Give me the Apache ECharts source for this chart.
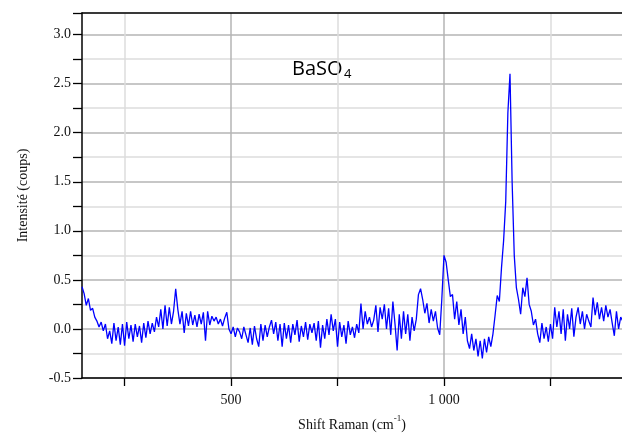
<!DOCTYPE html>
<html>
<head>
<meta charset="utf-8">
<script src="https://cdn.jsdelivr.net/npm/echarts@6/dist/echarts.min.js"></script>
<style>
html,body{margin:0;padding:0;background:#fff;}
#chart{width:622px;height:437px;}
</style>
</head>
<body>
<div id="chart"></div>
<script>
// Raman shift sampling (cm-1): start and step of the spectrum
const shiftStart = 150;
const shiftStep = 5;
// Intensity (counts), one value per sample
const intensity = [
  0.43, 0.36, 0.24, 0.31, 0.19, 0.21, 0.12, 0.08, 0.02, 0.07,
  -0.02, 0.05, -0.10, -0.02, -0.15, 0.06, -0.12, 0.02, -0.16, 0.05,
  -0.17, 0.07, -0.10, 0.04, -0.13, 0.05, -0.08, 0.03, -0.14, 0.06,
  -0.09, 0.08, -0.05, 0.06, -0.03, 0.12, 0.02, 0.20, 0.00, 0.24,
  0.03, 0.22, 0.05, 0.18, 0.41, 0.20, 0.05, 0.18, -0.04, 0.16,
  0.03, 0.18, 0.04, 0.14, 0.02, 0.15, 0.05, 0.17, -0.12, 0.18,
  0.04, 0.13, 0.08, 0.12, 0.05, 0.10, 0.03, 0.11, 0.17, 0.00,
  -0.05, 0.02, -0.08, 0.01, -0.03, -0.10, 0.02, -0.06, -0.14, 0.01,
  -0.16, 0.03, -0.10, -0.18, 0.05, -0.12, 0.04, -0.08, 0.02, 0.09,
  -0.05, 0.07, -0.12, 0.05, -0.18, 0.06, -0.10, 0.04, -0.14, 0.05,
  -0.06, 0.09, -0.13, 0.03, -0.08, 0.07, -0.11, 0.05, -0.04, 0.06,
  -0.12, 0.08, -0.19, 0.04, -0.10, 0.10, -0.06, 0.15, -0.02, 0.10,
  -0.18, 0.07, -0.08, 0.04, -0.15, 0.08, -0.06, 0.02, -0.09, 0.05,
  -0.04, 0.26, 0.00, 0.18, 0.05, 0.12, 0.02, 0.09, 0.24, -0.03,
  0.22, 0.10, 0.25, 0.00, 0.21, -0.06, 0.28, 0.05, -0.22, 0.15,
  -0.10, 0.18, -0.05, 0.15, -0.12, 0.12, -0.02, 0.10, 0.35, 0.41,
  0.30, 0.16, 0.26, 0.06, 0.20, 0.08, 0.18, 0.01, -0.06, 0.31,
  0.75, 0.68, 0.50, 0.33, 0.35, 0.10, 0.28, 0.04, 0.20, -0.05,
  0.12, -0.12, -0.20, -0.05, -0.22, -0.10, -0.28, -0.12, -0.30, -0.10,
  -0.24, -0.08, -0.18, -0.05, 0.14, 0.34, 0.28, 0.62, 0.90, 1.30,
  2.20, 2.60, 1.50, 0.75, 0.42, 0.30, 0.15, 0.42, 0.33, 0.52,
  0.25, 0.18, 0.04, 0.10, -0.05, -0.14, 0.06, -0.10, 0.02, -0.13,
  0.05, -0.10, 0.22, 0.02, 0.18, -0.05, 0.20, -0.12, 0.15, 0.00,
  0.21, -0.08, 0.12, 0.22, 0.05, 0.18, 0.00, 0.15, 0.08, 0.02,
  0.32, 0.14, 0.27, 0.10, 0.22, 0.08, 0.24, 0.12, 0.20, 0.06,
  -0.07, 0.18, 0.00, 0.12, 0.08
];
// Axis settings
const xMin = 150, xMax = 1418;
const yMin = -0.5, yMax = 3.22;
const xTickValues = [250, 500, 750, 1000, 1250];
const xLabelValues = [500, 1000];
const xLabelText = ['500', '1 000'];

const points = intensity.map((v, i) => [shiftStart + i * shiftStep, v]);

const serif = "'Liberation Serif', 'DejaVu Serif', serif";
const sans = "'Open Sans', sans-serif";
const chart = echarts.init(document.getElementById('chart'), null, {renderer: 'canvas'});
chart.setOption({
  animation: false,
  grid: {left: 82, top: 13, right: 0, bottom: 57, containLabel: false},
  xAxis: [{
    type: 'value', min: xMin, max: xMax, position: 'bottom',
    name: '{m|Shift Raman (cm}{s|-1}{m|)}',
    nameLocation: 'middle', nameGap: 36,
    nameTextStyle: {
      rich: {
        m: {fontFamily: serif, fontSize: 14, color: '#111', lineHeight: 18, verticalAlign: 'bottom'},
        s: {fontFamily: serif, fontSize: 9, color: '#111', lineHeight: 18, verticalAlign: 'top', padding: [0,0,8,0]}
      }
    },
    axisLine: {show: true, onZero: false, lineStyle: {color: '#000', width: 1.5}},
    axisTick: {show: true, length: 8, inside: false, customValues: xTickValues, lineStyle: {color: '#000', width: 1.3}},
    axisLabel: {show: true, customValues: xLabelValues, margin: 15, fontFamily: serif, fontSize: 14, color: '#111',
      formatter: v => xLabelText[xLabelValues.indexOf(v)] || ''},
    splitLine: {show: true, lineStyle: {color: ['#dcdcdc', '#b4b4b4'], width: 1.5}}
  }, {
    type: 'value', min: xMin, max: xMax, position: 'top',
    axisLine: {show: true, onZero: false, lineStyle: {color: '#000', width: 1.5}},
    axisTick: {show: false}, axisLabel: {show: false}, splitLine: {show: false}
  }],
  yAxis: {
    type: 'value', min: yMin, max: yMax, interval: 0.25,
    name: 'Intensité (coups)', nameLocation: 'middle', nameGap: 52,
    nameTextStyle: {fontFamily: serif, fontSize: 14, color: '#111'},
    axisLine: {show: true, onZero: false, lineStyle: {color: '#000', width: 1.5}},
    axisTick: {show: true, length: 9, lineStyle: {color: '#000', width: 1.3}},
    axisLabel: {margin: 11, fontFamily: serif, fontSize: 14, color: '#111',
      formatter: v => (Math.abs(v * 2 - Math.round(v * 2)) < 1e-6) ? v.toFixed(1) : ''},
    splitLine: {show: true, lineStyle: {color: ['#b4b4b4', '#dcdcdc'], width: 1.5}}
  },
  graphic: [{
    type: 'text', left: 292, top: 59,
    style: {text: 'BaSO', fontFamily: sans, fontSize: 20, fill: '#000'}
  }, {
    type: 'text', left: 344, top: 68,
    style: {text: '4', fontFamily: sans, fontSize: 13, fill: '#000'}
  }],
  series: [{
    type: 'line', xAxisIndex: 0, data: points, showSymbol: false, symbol: 'none',
    lineStyle: {color: '#0000ff', width: 1.3}, clip: true
  }]
});
</script>
</body>
</html>
